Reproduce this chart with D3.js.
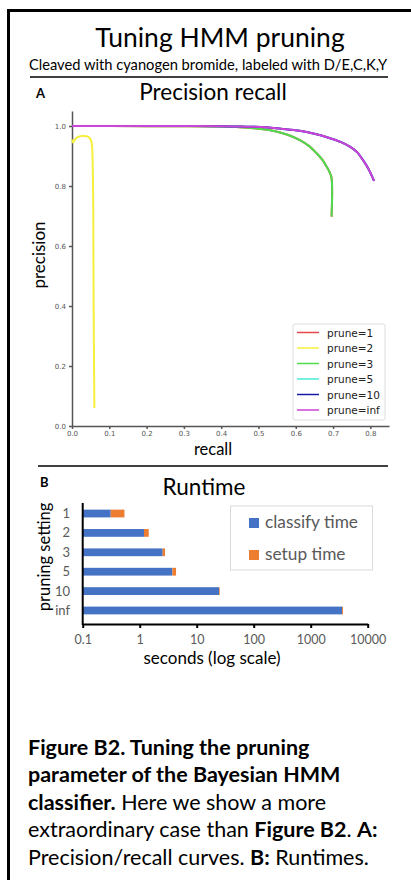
<!DOCTYPE html>
<html>
<head>
<meta charset="utf-8">
<script src="https://cdn.jsdelivr.net/npm/d3@7"></script>
<style>
  body { margin: 0; background: #fff; }
  svg { display: block; font-family: Lato, "Open Sans", sans-serif; }
  .axisA text { font-family: "DejaVu Sans", Verdana, sans-serif; font-size: 7px; fill: #555; }
  .axisA path, .axisA line { stroke: #555; stroke-width: 1.5; }
  .axisB path, .axisB line { stroke: #000; stroke-width: 2; }
  .axisB text { font-family: Lato, sans-serif; font-size: 12.5px; fill: #595959; }
  .legA text { font-family: "DejaVu Sans", Verdana, sans-serif; font-size: 10.5px; fill: #222; }
</style>
</head>
<body>
<script>
// precision / recall curves
var legendNames = ["prune=1", "prune=2", "prune=3", "prune=5", "prune=10", "prune=inf"];
var lineColors = ["#e8474c", "#f6f03c", "#4cdc4c", "#4ce8d8", "#1a1aa8", "#cc44d8"];

var prune1Recall    = [0, 0.1, 0.2, 0.3, 0.4, 0.45, 0.5, 0.539, 0.58, 0.611, 0.636, 0.656, 0.672, 0.683, 0.691, 0.696, 0.696];
var prune1Precision = [1.0, 1.0, 0.999, 0.999, 0.998, 0.996, 0.991, 0.984, 0.97, 0.953, 0.933, 0.909, 0.886, 0.864, 0.845, 0.826, 0.698];
var prune2Recall    = [0.0, 0.003, 0.008, 0.015, 0.026, 0.037, 0.044, 0.05, 0.053, 0.055, 0.057, 0.058, 0.06];
var prune2Precision = [0.955, 0.945, 0.955, 0.963, 0.967, 0.966, 0.964, 0.955, 0.942, 0.9, 0.72, 0.4, 0.06];
var prune3Recall    = [0, 0.1, 0.2, 0.3, 0.4, 0.45, 0.5, 0.539, 0.58, 0.611, 0.636, 0.656, 0.672, 0.683, 0.691, 0.696, 0.696];
var prune3Precision = [1.0, 1.0, 0.999, 0.999, 0.998, 0.996, 0.991, 0.984, 0.97, 0.953, 0.933, 0.909, 0.886, 0.864, 0.845, 0.826, 0.698];
var prune5Recall    = [0, 0.1, 0.2, 0.3, 0.4, 0.45, 0.52, 0.56, 0.61, 0.65, 0.69, 0.72, 0.745, 0.765, 0.78, 0.795, 0.81];
var prune5Precision = [1.0, 1.0, 1.0, 1.0, 0.999, 0.998, 0.996, 0.991, 0.984, 0.974, 0.96, 0.947, 0.931, 0.912, 0.887, 0.857, 0.817];
var prune10Recall    = [0, 0.1, 0.2, 0.3, 0.4, 0.45, 0.52, 0.56, 0.61, 0.65, 0.69, 0.72, 0.745, 0.765, 0.78, 0.795, 0.81];
var prune10Precision = [1.0, 1.0, 1.0, 1.0, 0.999, 0.998, 0.996, 0.991, 0.984, 0.974, 0.96, 0.947, 0.931, 0.912, 0.887, 0.857, 0.817];
var pruneInfRecall    = [0, 0.1, 0.2, 0.3, 0.4, 0.45, 0.52, 0.56, 0.61, 0.65, 0.69, 0.72, 0.745, 0.765, 0.78, 0.795, 0.81];
var pruneInfPrecision = [1.0, 1.0, 1.0, 1.0, 0.999, 0.998, 0.996, 0.991, 0.984, 0.974, 0.96, 0.947, 0.931, 0.912, 0.887, 0.857, 0.817];

var recallTicks = [0, 0.1, 0.2, 0.3, 0.4, 0.5, 0.6, 0.7, 0.8];
var precisionTicks = [0, 0.2, 0.4, 0.6, 0.8, 1.0];

// runtimes (seconds)
var pruneSettings = ["1", "2", "3", "5", "10", "inf"];
var classifyTime = [0.31, 1.19, 2.53, 3.74, 24.6, 3550];
var setupTime = [0.23, 0.25, 0.25, 0.6, 0.7, 140];
var timeTicks = [0.1, 1, 10, 100, 1000, 10000];
var timeTickLabels = ["0.1", "1", "10", "100", "1000", "10000"];

var width = 411, height = 880;

var svg = d3.select("body")
            .append("svg")
            .attr("width", width)
            .attr("height", height);

svg.append("rect").attr("width", width).attr("height", height).attr("fill", "#fff");

// frame (cut off at right and bottom)
svg.append("path")
   .attr("d", "M8.5,880 V10.5 H420")
   .attr("fill", "none")
   .attr("stroke", "#000")
   .attr("stroke-width", 3);

// titles
svg.append("text")
   .attr("x", 220).attr("y", 47)
   .attr("text-anchor", "middle")
   .style("font-size", "26.5px")
   .text("Tuning HMM pruning");

svg.append("text")
   .attr("x", 208).attr("y", 70)
   .attr("text-anchor", "middle")
   .style("font-size", "14.7px")
   .text("Cleaved with cyanogen bromide, labeled with D/E,C,K,Y");

svg.append("line")
   .attr("x1", 30).attr("x2", 388).attr("y1", 77).attr("y2", 77)
   .attr("stroke", "#000").attr("stroke-width", 1.5);

/* panel A: precision recall */
svg.append("text")
   .attr("x", 36).attr("y", 98)
   .style("font-size", "13px").style("font-weight", "bold")
   .text("A");

svg.append("text")
   .attr("x", 213).attr("y", 100)
   .attr("text-anchor", "middle")
   .style("font-size", "22.5px")
   .text("Precision recall");

var xA = d3.scaleLinear().domain([0, 0.85]).range([72, 389]);
var yA = d3.scaleLinear().domain([0, 1.05]).range([426, 111]);

svg.append("g")
   .attr("class", "axisA")
   .attr("transform", "translate(0,426)")
   .call(d3.axisBottom(xA).tickValues(recallTicks).tickFormat(d3.format(".1f"))
           .tickSize(3).tickSizeOuter(0).tickPadding(2));

svg.append("g")
   .attr("class", "axisA")
   .attr("transform", "translate(72,0)")
   .call(d3.axisLeft(yA).tickValues(precisionTicks).tickFormat(d3.format(".1f"))
           .tickSize(3).tickSizeOuter(0).tickPadding(3));

svg.append("text")
   .attr("x", 213).attr("y", 455)
   .attr("text-anchor", "middle")
   .style("font-size", "16.5px")
   .text("recall");

svg.append("text")
   .attr("transform", "translate(45,255) rotate(-90)")
   .attr("text-anchor", "middle")
   .style("font-size", "17px")
   .text("precision");

var curves = [
  [prune1Recall, prune1Precision],
  [prune2Recall, prune2Precision],
  [prune3Recall, prune3Precision],
  [prune5Recall, prune5Precision],
  [prune10Recall, prune10Precision],
  [pruneInfRecall, pruneInfPrecision]
];

var prLine = d3.line()
               .x(function(d) { return xA(d[0]); })
               .y(function(d) { return yA(d[1]); })
               .curve(d3.curveCatmullRom.alpha(0.5));

svg.selectAll(".prcurve")
   .data(curves)
   .enter()
   .append("path")
   .attr("class", "prcurve")
   .attr("d", function(c) { return prLine(d3.zip(c[0], c[1])); })
   .attr("fill", "none")
   .attr("stroke", function(d, i) { return lineColors[i]; })
   .attr("stroke-width", 2);

// legend A
var legA = svg.append("g").attr("class", "legA").attr("transform", "translate(293,324)");
legA.append("rect")
    .attr("width", 92).attr("height", 96).attr("rx", 2)
    .attr("fill", "#fff").attr("stroke", "#ddd");
legA.selectAll("line")
    .data(legendNames)
    .enter()
    .append("line")
    .attr("x1", 4).attr("x2", 26)
    .attr("y1", function(d, i) { return 8.5 + i * 15.5; })
    .attr("y2", function(d, i) { return 8.5 + i * 15.5; })
    .attr("stroke", function(d, i) { return lineColors[i]; })
    .attr("stroke-width", 1.5);
legA.selectAll("text")
    .data(legendNames)
    .enter()
    .append("text")
    .attr("x", 34)
    .attr("y", function(d, i) { return 12.5 + i * 15.5; })
    .text(function(d) { return d; });

svg.append("line")
   .attr("x1", 38).attr("x2", 388).attr("y1", 466).attr("y2", 466)
   .attr("stroke", "#000").attr("stroke-width", 1.5);

/* panel B: runtime */
svg.append("text")
   .attr("x", 40).attr("y", 487)
   .style("font-size", "13px").style("font-weight", "bold")
   .text("B");

svg.append("text")
   .attr("x", 204).attr("y", 495)
   .attr("text-anchor", "middle")
   .style("font-size", "22.5px")
   .text("Runtime");

var xB = d3.scaleLog().domain([0.1, 10000]).range([82.7, 367.7]);
var yB = d3.scaleBand().domain(pruneSettings).range([498, 626]).padding(0.6);

svg.selectAll(".classify")
   .data(pruneSettings)
   .enter()
   .append("rect")
   .attr("class", "classify")
   .attr("x", xB(0.1))
   .attr("y", function(d) { return yB(d); })
   .attr("width", function(d, i) { return xB(classifyTime[i]) - xB(0.1); })
   .attr("height", yB.bandwidth())
   .attr("fill", "#4472c4");

svg.selectAll(".setup")
   .data(pruneSettings)
   .enter()
   .append("rect")
   .attr("class", "setup")
   .attr("x", function(d, i) { return xB(classifyTime[i]); })
   .attr("y", function(d) { return yB(d); })
   .attr("width", function(d, i) { return xB(classifyTime[i] + setupTime[i]) - xB(classifyTime[i]); })
   .attr("height", yB.bandwidth())
   .attr("fill", "#ed7d31");

svg.append("g")
   .attr("class", "axisB")
   .attr("transform", "translate(0,624)")
   .call(d3.axisBottom(xB).tickValues(timeTicks)
           .tickFormat(function(d, i) { return timeTickLabels[i]; })
           .tickSize(4).tickSizeOuter(0).tickPadding(7));

svg.append("line")
   .attr("x1", 82.7).attr("x2", 82.7).attr("y1", 503).attr("y2", 625)
   .attr("stroke", "#000").attr("stroke-width", 2);

svg.selectAll(".catlabel")
   .data(pruneSettings)
   .enter()
   .append("text")
   .attr("class", "catlabel")
   .attr("x", 70)
   .attr("y", function(d) { return yB(d) + yB.bandwidth() / 2 + 4.5; })
   .attr("text-anchor", "end")
   .style("font-size", "13px")
   .attr("fill", "#595959")
   .text(function(d) { return d; });

svg.append("text")
   .attr("transform", "translate(50,557) rotate(-90)")
   .attr("text-anchor", "middle")
   .style("font-size", "16.5px")
   .text("pruning setting");

svg.append("text")
   .attr("x", 212).attr("y", 664)
   .attr("text-anchor", "middle")
   .style("font-size", "17px")
   .text("seconds (log scale)");

// legend B
var legB = svg.append("g").attr("transform", "translate(230.5,506)");
legB.append("rect")
    .attr("width", 142).attr("height", 64)
    .attr("fill", "#fff").attr("stroke", "#d9d9d9");
var legBNames = ["classify time", "setup time"];
var legBColors = ["#4472c4", "#ed7d31"];
legB.selectAll(".sw")
    .data(legBNames)
    .enter()
    .append("rect")
    .attr("class", "sw")
    .attr("x", 18.5).attr("width", 10).attr("height", 10)
    .attr("y", function(d, i) { return 12 + i * 32; })
    .attr("fill", function(d, i) { return legBColors[i]; });
legB.selectAll("text")
    .data(legBNames)
    .enter()
    .append("text")
    .attr("x", 34.5)
    .attr("y", function(d, i) { return 21.5 + i * 32.5; })
    .style("font-size", "17.3px")
    .attr("fill", "#595959")
    .text(function(d) { return d; });

// caption
var captionLines = [
  [["Figure B2. Tuning the pruning", true]],
  [["parameter of the Bayesian HMM", true]],
  [["classifier.", true], [" Here we show a more", false]],
  [["extraordinary case than ", false], ["Figure B2", true], [". ", false], ["A:", true]],
  [["Precision/recall curves. ", false], ["B:", true], [" Runtimes.", false]]
];

var caption = svg.append("g");
captionLines.forEach(function(line, i) {
  var t = caption.append("text")
                 .attr("x", 28)
                 .attr("y", 755 + i * 27.4)
                 .style("font-size", "21.5px");
  line.forEach(function(part) {
    t.append("tspan")
     .style("font-weight", part[1] ? "bold" : "normal")
     .text(part[0]);
  });
});
</script>
</body>
</html>
